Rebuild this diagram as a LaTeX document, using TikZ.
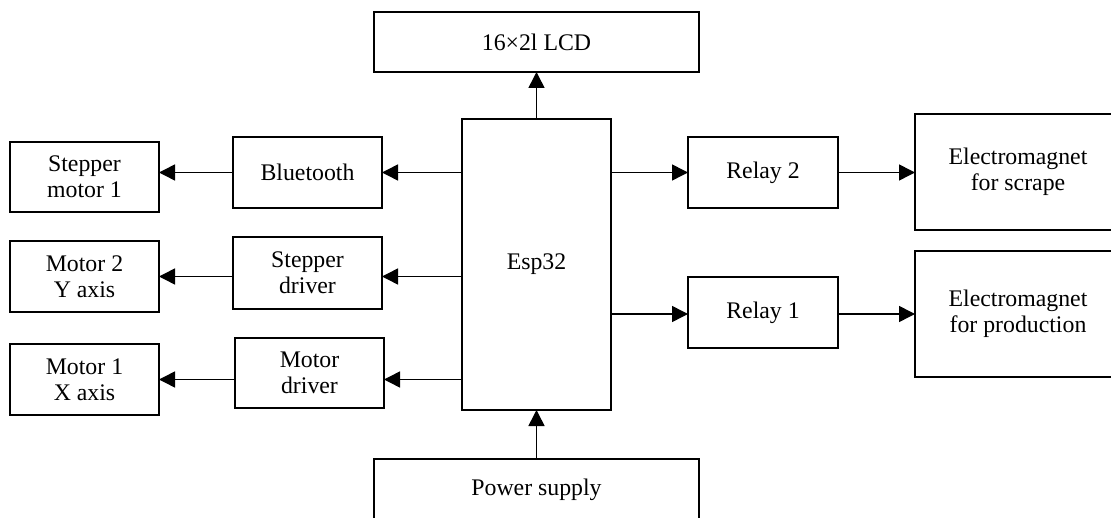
\documentclass[tikz,border=0pt]{standalone}
\usepackage{fontspec}
\setmainfont{Liberation Serif}
\usetikzlibrary{arrows.meta}
\begin{document}
\begin{tikzpicture}[x=1pt,y=-1pt,
  box/.style={draw, line width=1.5pt, inner sep=0pt, outer sep=0pt, align=center,
    font=\fontsize{23.8pt}{26pt}\selectfont},
  arr/.style={line width=1.5pt, -{Triangle[length=16pt,width=16pt]}}]
\clip (0,0) rectangle (1111,518);
\useasboundingbox (0,0) rectangle (1111,518);
\node[box, minimum width=325pt, minimum height=60pt] (lcd) at (536.5,42) {16×2l LCD};
\node[box, minimum width=149pt, minimum height=291pt] (esp) at (536.5,264.5) {Esp32};
\node[box, minimum width=149pt, minimum height=70pt] (sm1) at (84.5,177) {Stepper\\motor 1};
\node[box, minimum width=149pt, minimum height=71pt] (bt) at (307.5,172.5) {Bluetooth};
\node[box, minimum width=149pt, minimum height=71pt] (m2) at (84.5,276.5) {Motor 2\\Y axis};
\node[box, minimum width=149pt, minimum height=72pt] (sd) at (307.5,273) {Stepper\\driver};
\node[box, minimum width=149pt, minimum height=71pt] (m1) at (84.5,379.5) {Motor 1\\X axis};
\node[box, minimum width=149pt, minimum height=70pt] (md) at (309.5,373) {Motor\\driver};
\node[box, minimum width=150pt, minimum height=71pt] (r2) at (763,172.5) {Relay 2};
\node[box, minimum width=150pt, minimum height=71pt] (r1) at (763,312.5) {Relay 1};
\node[box, minimum width=206pt, minimum height=116pt] (ems) at (1018,172) {Electromagnet\\for scrape};
\node[box, minimum width=206pt, minimum height=126pt] (emp) at (1018,314) {Electromagnet\\for production};
\node[box, minimum width=325pt, minimum height=62pt] (ps) at (536.5,490) {Power supply};
% connectors
\draw[arr] (esp.north) -- (lcd.south);
\draw[arr] (ps.north) -- (esp.south);
\draw[arr] (esp.west |- bt.east) -- (bt.east);
\draw[arr] (bt.west) -- (bt.west -| sm1.east);
\draw[arr] (esp.west |- m2.east) -- (sd.east |- m2.east);
\draw[arr] (sd.west |- m2.east) -- (m2.east);
\draw[arr] (esp.west |- m1.east) -- (md.east |- m1.east);
\draw[arr] (md.west |- m1.east) -- (m1.east);
\draw[arr] (esp.east |- r2.west) -- (r2.west);
\draw[arr] (r2.east) -- (r2.east -| ems.west);
\draw[arr] (esp.east |- 0,314) -- (r1.west |- 0,314);
\draw[arr] (r1.east |- 0,314) -- (emp.west |- 0,314);
\end{tikzpicture}
\end{document}
